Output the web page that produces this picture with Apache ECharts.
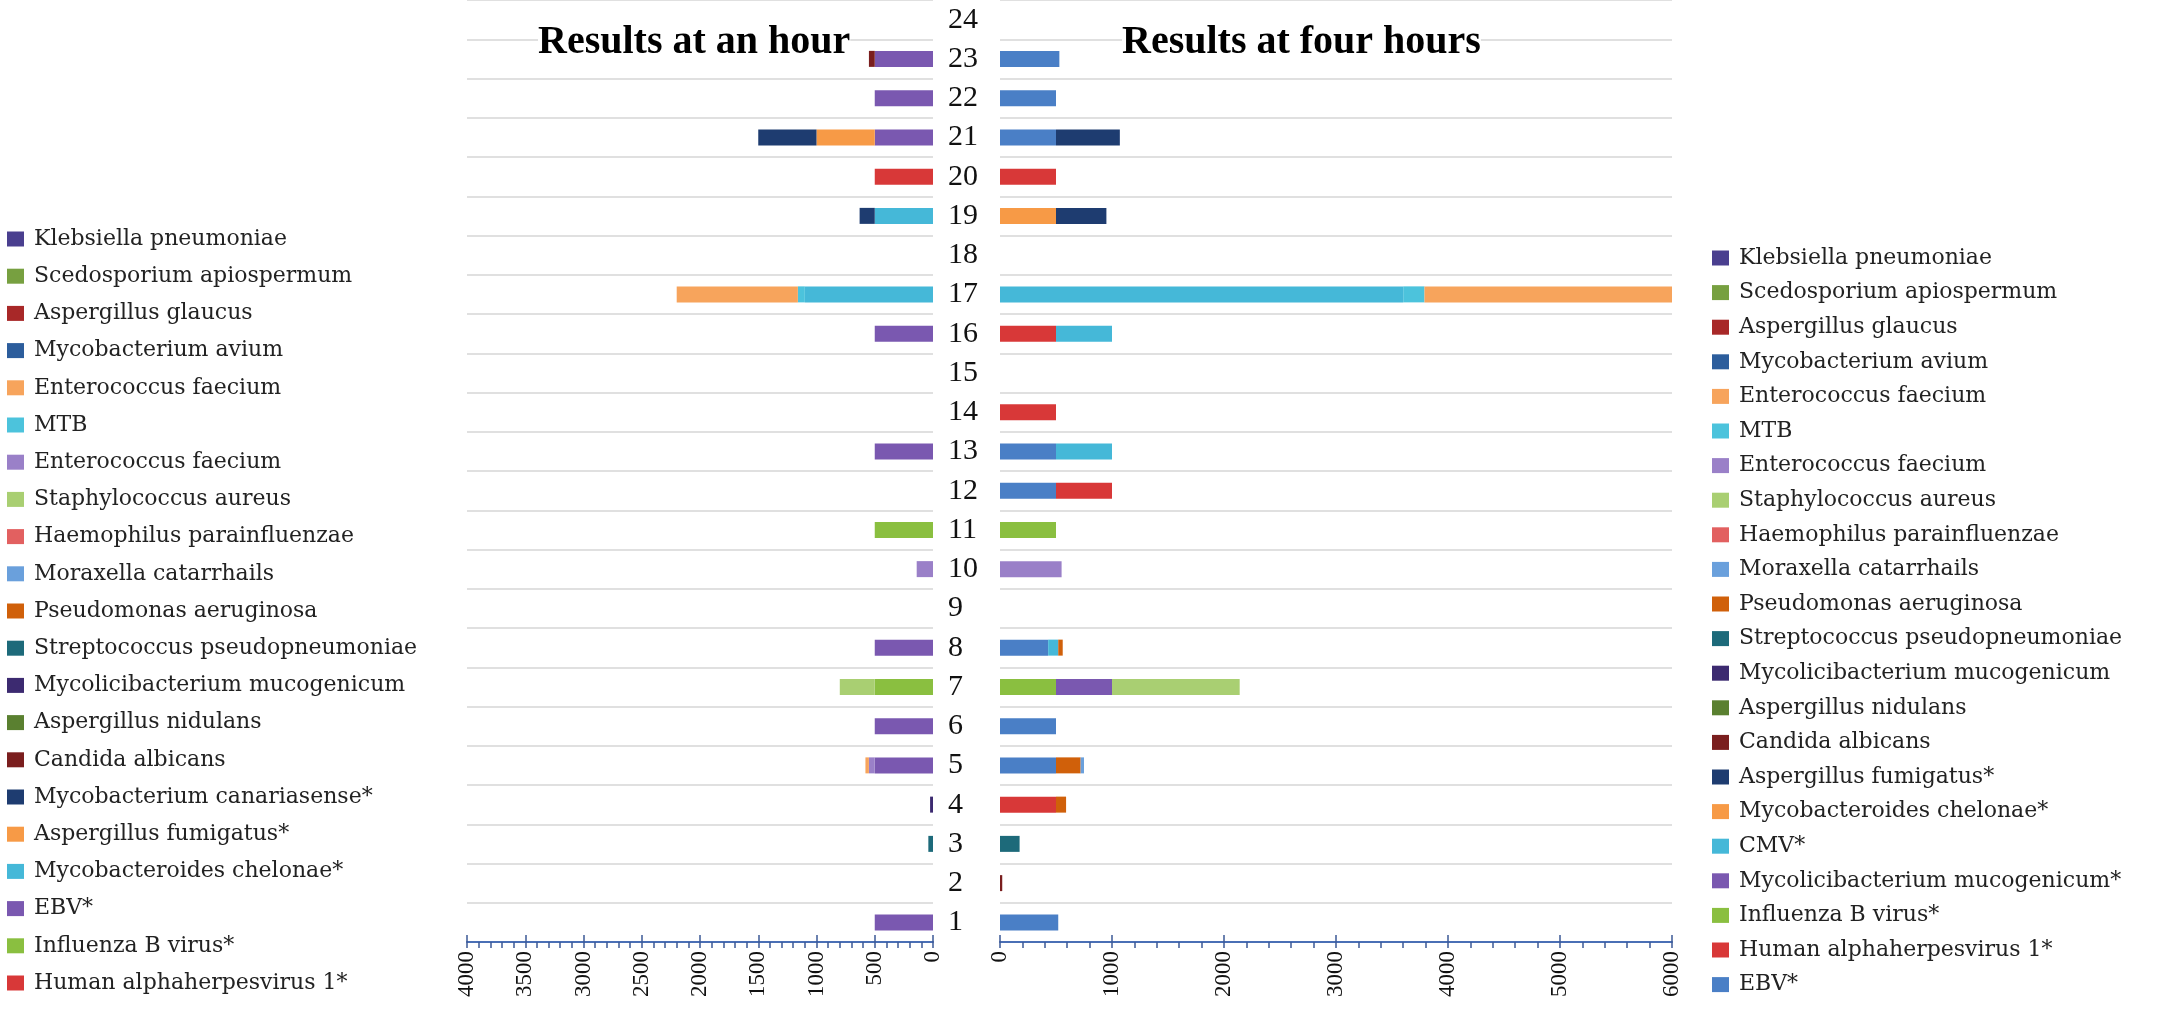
<!DOCTYPE html>
<html>
<head>
<meta charset="utf-8">
<title>Results at an hour / four hours</title>
<script src="https://cdn.jsdelivr.net/npm/echarts@6/dist/echarts.min.js"></script>
<style>
  html, body { margin: 0; padding: 0; background: #fff; }
  #bar_mirror { width: 2165px; height: 1024px; }
</style>
</head>
<body>
<div id="bar_mirror"></div>
<script>
// ------------------------------
// Data
// ------------------------------

// Sample numbers on the category axis (bottom to top)
var categories = ["1", "2", "3", "4", "5", "6", "7", "8", "9", "10", "11", "12",
                  "13", "14", "15", "16", "17", "18", "19", "20", "21", "22", "23", "24"];

// Axis ticks
var hourTicks = [0, 500, 1000, 1500, 2000, 2500, 3000, 3500, 4000];
var fourTicks = [0, 1000, 2000, 3000, 4000, 5000, 6000];

// Legend names, top to bottom as printed ("~" marks the second Enterococcus entry)
var hourNames = [
  "Klebsiella pneumoniae", "Scedosporium apiospermum", "Aspergillus glaucus",
  "Mycobacterium avium", "Enterococcus faecium", "MTB", "Enterococcus faecium~",
  "Staphylococcus aureus", "Haemophilus parainfluenzae", "Moraxella catarrhails",
  "Pseudomonas aeruginosa", "Streptococcus pseudopneumoniae", "Mycolicibacterium mucogenicum",
  "Aspergillus nidulans", "Candida albicans", "Mycobacterium canariasense*",
  "Aspergillus fumigatus*", "Mycobacteroides chelonae*", "EBV*", "Influenza B virus*",
  "Human alphaherpesvirus 1*"
];
var fourNames = [
  "Klebsiella pneumoniae", "Scedosporium apiospermum", "Aspergillus glaucus",
  "Mycobacterium avium", "Enterococcus faecium", "MTB", "Enterococcus faecium~",
  "Staphylococcus aureus", "Haemophilus parainfluenzae", "Moraxella catarrhails",
  "Pseudomonas aeruginosa", "Streptococcus pseudopneumoniae", "Mycolicibacterium mucogenicum",
  "Aspergillus nidulans", "Candida albicans", "Aspergillus fumigatus*",
  "Mycobacteroides chelonae*", "CMV*", "Mycolicibacterium mucogenicum*", "Influenza B virus*",
  "Human alphaherpesvirus 1*", "EBV*"
];

// Values at an hour, one row per legend entry, columns = samples 1..24
var hourValues = [
  [0,0,0,0,0,0,0,0,0,0,0,0,0,0,0,0,0,0,0,0,0,0,0,0],            // Klebsiella pneumoniae
  [0,0,0,0,0,0,0,0,0,0,0,0,0,0,0,0,0,0,0,0,0,0,0,0],            // Scedosporium apiospermum
  [0,0,0,0,0,0,0,0,0,0,0,0,0,0,0,0,0,0,0,0,0,0,0,0],            // Aspergillus glaucus
  [0,0,0,0,0,0,0,0,0,0,0,0,0,0,0,0,0,0,0,0,0,0,0,0],            // Mycobacterium avium
  [0,0,0,0,30,0,0,0,0,0,0,0,0,0,0,0,1040,0,0,0,0,0,0,0],        // Enterococcus faecium
  [0,0,0,0,0,0,0,0,0,0,0,0,0,0,0,0,60,0,0,0,0,0,0,0],           // MTB
  [0,0,0,0,50,0,0,0,0,140,0,0,0,0,0,0,0,0,0,0,0,0,0,0],         // Enterococcus faecium
  [0,0,0,0,0,0,300,0,0,0,0,0,0,0,0,0,0,0,0,0,0,0,0,0],          // Staphylococcus aureus
  [0,0,0,0,0,0,0,0,0,0,0,0,0,0,0,0,0,0,0,0,0,0,0,0],            // Haemophilus parainfluenzae
  [0,0,0,0,0,0,0,0,0,0,0,0,0,0,0,0,0,0,0,0,0,0,0,0],            // Moraxella catarrhails
  [0,0,0,0,0,0,0,0,0,0,0,0,0,0,0,0,0,0,0,0,0,0,0,0],            // Pseudomonas aeruginosa
  [0,0,40,0,0,0,0,0,0,0,0,0,0,0,0,0,0,0,0,0,0,0,0,0],           // Streptococcus pseudopneumoniae
  [0,0,0,25,0,0,0,0,0,0,0,0,0,0,0,0,0,0,0,0,0,0,0,0],           // Mycolicibacterium mucogenicum
  [0,0,0,0,0,0,0,0,0,0,0,0,0,0,0,0,0,0,0,0,0,0,0,0],            // Aspergillus nidulans
  [0,0,0,0,0,0,0,0,0,0,0,0,0,0,0,0,0,0,0,0,0,0,50,0],           // Candida albicans
  [0,0,0,0,0,0,0,0,0,0,0,0,0,0,0,0,0,0,130,0,500,0,0,0],        // Mycobacterium canariasense*
  [0,0,0,0,0,0,0,0,0,0,0,0,0,0,0,0,0,0,0,0,500,0,0,0],          // Aspergillus fumigatus*
  [0,0,0,0,0,0,0,0,0,0,0,0,0,0,0,0,1100,0,500,0,0,0,0,0],       // Mycobacteroides chelonae*
  [500,0,0,0,500,500,0,500,0,0,0,0,500,0,0,500,0,0,0,0,500,500,500,0], // EBV*
  [0,0,0,0,0,0,500,0,0,0,500,0,0,0,0,0,0,0,0,0,0,0,0,0],        // Influenza B virus*
  [0,0,0,0,0,0,0,0,0,0,0,0,0,0,0,0,0,0,0,500,0,0,0,0]           // Human alphaherpesvirus 1*
];

// Values at four hours
var fourValues = [
  [0,0,0,0,0,0,0,0,0,0,0,0,0,0,0,0,0,0,0,0,0,0,0,0],            // Klebsiella pneumoniae
  [0,0,0,0,0,0,0,0,0,0,0,0,0,0,0,0,0,0,0,0,0,0,0,0],            // Scedosporium apiospermum
  [0,0,0,0,0,0,0,0,0,0,0,0,0,0,0,0,0,0,0,0,0,0,0,0],            // Aspergillus glaucus
  [0,0,0,0,0,0,0,0,0,0,0,0,0,0,0,0,0,0,0,0,0,0,0,0],            // Mycobacterium avium
  [0,0,0,0,0,0,0,0,0,0,0,0,0,0,0,0,2210,0,0,0,0,0,0,0],         // Enterococcus faecium
  [0,0,0,0,0,0,0,0,0,0,0,0,0,0,0,0,190,0,0,0,0,0,0,0],          // MTB
  [0,0,0,0,0,0,0,0,0,550,0,0,0,0,0,0,0,0,0,0,0,0,0,0],          // Enterococcus faecium
  [0,0,0,0,0,0,1140,0,0,0,0,0,0,0,0,0,0,0,0,0,0,0,0,0],         // Staphylococcus aureus
  [0,0,0,0,0,0,0,0,0,0,0,0,0,0,0,0,0,0,0,0,0,0,0,0],            // Haemophilus parainfluenzae
  [0,0,0,0,30,0,0,0,0,0,0,0,0,0,0,0,0,0,0,0,0,0,0,0],           // Moraxella catarrhails
  [0,0,0,90,220,0,0,40,0,0,0,0,0,0,0,0,0,0,0,0,0,0,0,0],        // Pseudomonas aeruginosa
  [0,0,175,0,0,0,0,0,0,0,0,0,0,0,0,0,0,0,0,0,0,0,0,0],          // Streptococcus pseudopneumoniae
  [0,0,0,0,0,0,0,0,0,0,0,0,0,0,0,0,0,0,0,0,0,0,0,0],            // Mycolicibacterium mucogenicum
  [0,0,0,0,0,0,0,0,0,0,0,0,0,0,0,0,0,0,0,0,0,0,0,0],            // Aspergillus nidulans
  [0,20,0,0,0,0,0,0,0,0,0,0,0,0,0,0,0,0,0,0,0,0,0,0],           // Candida albicans
  [0,0,0,0,0,0,0,0,0,0,0,0,0,0,0,0,0,0,450,0,570,0,0,0],        // Aspergillus fumigatus*
  [0,0,0,0,0,0,0,0,0,0,0,0,0,0,0,0,0,0,500,0,0,0,0,0],          // Mycobacteroides chelonae*
  [0,0,0,0,0,0,0,90,0,0,0,0,500,0,0,500,3600,0,0,0,0,0,0,0],    // CMV*
  [0,0,0,0,0,0,500,0,0,0,0,0,0,0,0,0,0,0,0,0,0,0,0,0],          // Mycolicibacterium mucogenicum*
  [0,0,0,0,0,0,500,0,0,0,500,0,0,0,0,0,0,0,0,0,0,0,0,0],        // Influenza B virus*
  [0,0,0,500,0,0,0,0,0,0,0,500,0,500,0,500,0,0,0,500,0,0,0,0],  // Human alphaherpesvirus 1*
  [520,0,0,0,500,500,0,430,0,0,0,500,500,0,0,0,0,0,0,0,500,500,530,0] // EBV*
];

// Colours by legend position
var hourColors = [
  "#4a3f8f", "#77a040", "#a82828", "#2c5d9c", "#f7a45c", "#4cc3dc", "#9a80c8",
  "#a9cf72", "#e26060", "#6aa0dc", "#d0600a", "#1d6a7a", "#3c2a70", "#5a8030",
  "#7a1e1e", "#1e3c70", "#f79a46", "#45b8d8", "#7a58b0", "#8abf40", "#d83838"
];
var fourColors = [
  "#4a3f8f", "#77a040", "#a82828", "#2c5d9c", "#f7a45c", "#4cc3dc", "#9a80c8",
  "#a9cf72", "#e26060", "#6aa0dc", "#d0600a", "#1d6a7a", "#3c2a70", "#5a8030",
  "#7a1e1e", "#1e3c70", "#f79a46", "#45b8d8", "#7a58b0", "#8abf40", "#d83838", "#4a7fc6"
];

// ------------------------------
// Chart
// ------------------------------

var BarMirror = (function () {
  var serif = "'Liberation Serif', 'DejaVu Serif', serif";
  var legendFont = "'DejaVu Serif', 'Liberation Serif', serif";

  // legend shows the plain name, series carry a panel prefix
  var cleanName = function (name) {
    return name.slice(2).replace("~", "");
  };

  // Excel draws series 1 next to the axis and lists it last in the legend
  var buildSeries = function (prefix, names, values, colors, axisIndex) {
    var list = [];
    for (var i = names.length - 1; i >= 0; i--) {
      list.push({
        name: prefix + names[i],
        type: "bar",
        stack: prefix,
        xAxisIndex: axisIndex * 2,
        yAxisIndex: axisIndex,
        barWidth: 16,
        itemStyle: { color: colors[i] },
        data: values[i],
      });
    }
    return list;
  };

  var valueAxis = function (gridIndex, max, interval, ticks) {
    return [
      {
        gridIndex: gridIndex,
        type: "value",
        position: "bottom",
        inverse: gridIndex === 0,
        min: 0,
        max: max,
        interval: interval,
        axisLine: { show: true, lineStyle: { color: "#4a6fb5", width: 2 } },
        axisTick: { show: true, length: 6, lineStyle: { color: "#3c5a96", width: 1.5 } },
        minorTick: { show: true, splitNumber: 5, length: 6, lineStyle: { color: "#3c5a96", width: 1.5 } },
        axisLabel: {
          rotate: 90,
          margin: 9,
          color: "#111",
          fontFamily: serif,
          fontSize: 23,
          customValues: ticks,
          formatter: function (v) { return String(v); },
        },
        splitLine: { show: false },
      },
      {
        // upper half of the crossing major ticks
        gridIndex: gridIndex,
        type: "value",
        position: "bottom",
        inverse: gridIndex === 0,
        min: 0,
        max: max,
        interval: interval,
        axisLine: { show: false },
        axisTick: { show: true, inside: true, length: 7, lineStyle: { color: "#3c5a96", width: 1.5 } },
        axisLabel: { show: false },
        splitLine: { show: false },
      },
    ];
  };

  var _barMirror = function () {
    if (typeof echarts == "undefined") {
      console.warn("Warning - echarts.min.js is not loaded.");
      return;
    }

    var element = document.getElementById("bar_mirror");
    if (!element) return;

    var chart = echarts.init(element);

    var splitStyle = { show: true, interval: 0, lineStyle: { color: "#d6d6d6", width: 1.5 } };

    chart.setOption({
      animation: false,
      backgroundColor: "#fff",
      textStyle: { fontFamily: serif },

      title: [
        {
          text: "Results at an hour",
          left: 538,
          top: 21,
          padding: [2, 0, 2, 0],
          backgroundColor: "#fff",
          textStyle: { fontFamily: serif, fontSize: 40, fontWeight: "bold", color: "#000" },
        },
        {
          text: "Results at four hours",
          left: 1122,
          top: 21,
          padding: [2, 0, 2, 0],
          backgroundColor: "#fff",
          textStyle: { fontFamily: serif, fontSize: 40, fontWeight: "bold", color: "#000" },
        },
      ],

      legend: [
        {
          orient: "vertical",
          left: 7,
          top: 228,
          padding: 0,
          icon: "rect",
          itemWidth: 17,
          itemHeight: 15,
          itemGap: 15.2,
          selectedMode: false,
          formatter: cleanName,
          textStyle: { fontFamily: legendFont, fontSize: 22, lineHeight: 22, color: "#222", padding: [0, 0, 0, 5] },
          data: hourNames.map(function (n) { return "L|" + n; }),
        },
        {
          orient: "vertical",
          left: 1712,
          top: 247,
          padding: 0,
          icon: "rect",
          itemWidth: 17,
          itemHeight: 15,
          itemGap: 12.6,
          selectedMode: false,
          formatter: cleanName,
          textStyle: { fontFamily: legendFont, fontSize: 22, lineHeight: 22, color: "#222", padding: [0, 0, 0, 5] },
          data: fourNames.map(function (n) { return "R|" + n; }),
        },
      ],

      grid: [
        { left: 467, width: 466, top: -6, height: 948 },
        { left: 1000, width: 672, top: -6, height: 948 },
      ],

      xAxis: valueAxis(0, 4000, 500, hourTicks).concat(valueAxis(1, 6000, 1000, fourTicks)),

      yAxis: [
        {
          gridIndex: 0,
          type: "category",
          data: categories,
          position: "right",
          axisLine: { show: false },
          axisTick: { show: false, interval: 0 },
          axisLabel: {
            interval: 0,
            margin: 15,
            align: "left",
            color: "#111",
            fontFamily: serif,
            fontSize: 30,
          },
          splitLine: splitStyle,
        },
        {
          gridIndex: 1,
          type: "category",
          data: categories,
          axisLine: { show: false },
          axisTick: { show: false, interval: 0 },
          axisLabel: { show: false },
          splitLine: splitStyle,
        },
      ],

      series: buildSeries("L|", hourNames, hourValues, hourColors, 0)
        .concat(buildSeries("R|", fourNames, fourValues, fourColors, 1)),
    });

    // Resize
    var resizeCharts;
    window.addEventListener("resize", function () {
      clearTimeout(resizeCharts);
      resizeCharts = setTimeout(function () {
        chart.resize();
      }, 200);
    });
  };

  return {
    init: function () {
      _barMirror();
    },
  };
})();

document.addEventListener("DOMContentLoaded", function () {
  BarMirror.init();
});
</script>
</body>
</html>
